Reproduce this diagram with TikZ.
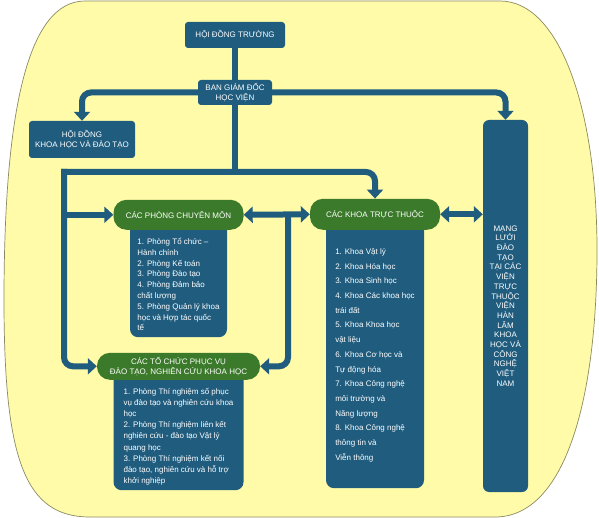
\documentclass[tikz,border=0pt]{standalone}
\usepackage{fontspec}
\setmainfont{Liberation Sans}
\usepackage{xcolor}
\usepackage{tikz}
\usetikzlibrary{arrows.meta, positioning}

\definecolor{orgblue}{HTML}{1F5C7E}
\definecolor{orggreen}{HTML}{3B7A2A}
\definecolor{bgyellow}{HTML}{FFFBA8}
\definecolor{rimgrey}{HTML}{8A8A62}

\begin{document}
\begin{tikzpicture}[x=1pt, y=-1pt,
    unit/.style={rectangle, fill=orgblue, rounded corners=3pt, text=white, align=center, inner sep=1pt, font=\fontsize{8}{10.5}\selectfont},
    listbox/.style={rectangle, fill=orgblue, rounded corners=8pt, text=white, align=left, anchor=north, inner sep=2pt, font=\fontsize{8}{10.8}\selectfont},
    group/.style={rectangle, fill=orggreen, rounded corners=13pt, text=white, align=center, inner sep=1pt, font=\fontsize{8}{10.5}\selectfont},
    link/.style={draw=orgblue, line width=6pt},
    arr/.style={link, rounded corners=9pt, -{Triangle[length=9pt, width=16pt]}},
    darr/.style={link, {Triangle[length=9pt, width=16pt]}-{Triangle[length=9pt, width=16pt]}}
]
\useasboundingbox (0,0) rectangle (599,518);

% background
\filldraw[fill=bgyellow, draw=rimgrey, line width=0.7pt] (85,1) -- (500,1) .. controls (560,1) and (597,110) .. (597,250) .. controls (597,400) and (565,517) .. (495,517) -- (90,517) .. controls (25,517) and (4,460) .. (4,300) .. controls (4,110) and (28,1) .. (85,1) -- cycle;

% top units
\node[unit, minimum width=100pt, minimum height=26pt] (hdt) at (235,35) {HỘI ĐỒNG TRƯỜNG};
\node[unit, minimum width=74pt, minimum height=25pt] (bgd) at (235,92.5) {BAN GIÁM ĐỐC\\HỌC VIỆN};
\node[unit, minimum width=106pt, minimum height=37pt] (hdkh) at (82,139.5) {HỘI ĐỒNG\\KHOA HỌC VÀ ĐÀO TẠO};
\node[unit, rounded corners=6pt, minimum width=45pt, minimum height=372pt, font=\fontsize{8}{9.7}\selectfont] (mang) at (505.5,306) {MẠNG\\LƯỚI\\ĐÀO\\TẠO\\TẠI CÁC\\VIỆN\\TRỰC\\THUỘC\\VIỆN\\HÀN\\LÂM\\KHOA\\HỌC VÀ\\CÔNG\\NGHỆ\\VIỆT\\NAM};

% lists with their headers
\node[listbox, minimum width=97pt, minimum height=115pt] (plist) at (178.5,222) {\rule{0pt}{16pt}1. Phòng Tổ chức –\\Hành chính\\2. Phòng Kế toán\\3. Phòng Đào tạo\\4. Phòng Đảm bảo\\chất lượng\\5. Phòng Quản lý khoa\\học và Hợp tác quốc\\tế};
\node[group, minimum width=130pt, minimum height=30pt, above=-8pt of plist] (phong) {CÁC PHÒNG CHUYÊN MÔN};

\node[listbox, minimum width=130pt, minimum height=118pt, font=\fontsize{8}{11.2}\selectfont] (tlist) at (178.5,372) {\rule{0pt}{17pt}1. Phòng Thí nghiệm số phục\\vụ đào tạo và nghiên cứu khoa\\học\\2. Phòng Thí nghiệm liên kết\\nghiên cứu - đào tạo Vật lý\\quang học\\3. Phòng Thí nghiệm kết nối\\đào tạo, nghiên cứu và hỗ trợ\\khởi nghiệp};
\node[group, minimum width=163pt, minimum height=27pt, above=-8pt of tlist] (tochuc) {CÁC TỔ CHỨC PHỤC VỤ\\ĐÀO TẠO, NGHIÊN CỨU KHOA HỌC};

\node[listbox, minimum width=98pt, minimum height=266pt, font=\fontsize{8}{14.7}\selectfont] (klist) at (375,222) {1. Khoa Vật lý\\2. Khoa Hóa học\\3. Khoa Sinh học\\4. Khoa Các khoa học\\trái đất\\5. Khoa Khoa học\\vật liệu\\6. Khoa Cơ học và\\Tự động hóa\\7. Khoa Công nghệ\\môi trường và\\Năng lượng\\8. Khoa Công nghệ\\thông tin và\\Viễn thông};
\node[group, minimum width=130pt, minimum height=31pt, above=-8pt of klist] (khoa) {CÁC KHOA TRỰC THUỘC};

% connectors
\coordinate (bar) at (64,172);
\coordinate (split) at (288,215);

\draw[link] (hdt) -- (bgd);
\draw[arr] (bgd.west) -| (hdkh.north);
\draw[arr] (bgd.east) -| (mang.north);
\draw[link] (bgd) -- (bgd |- bar);
\draw[arr, line cap=rect] (bar) -| (khoa.north);
\draw[arr, line cap=rect] (bar) |- (tochuc.west);
\draw[arr] (bar |- phong.west) -- (phong.west);
\draw[darr] (phong.east) -- (khoa.west);
\draw[arr] (split) |- (tochuc.east);
\draw[darr] (khoa.east) -- (mang.west |- khoa.east);
\end{tikzpicture}
\end{document}
